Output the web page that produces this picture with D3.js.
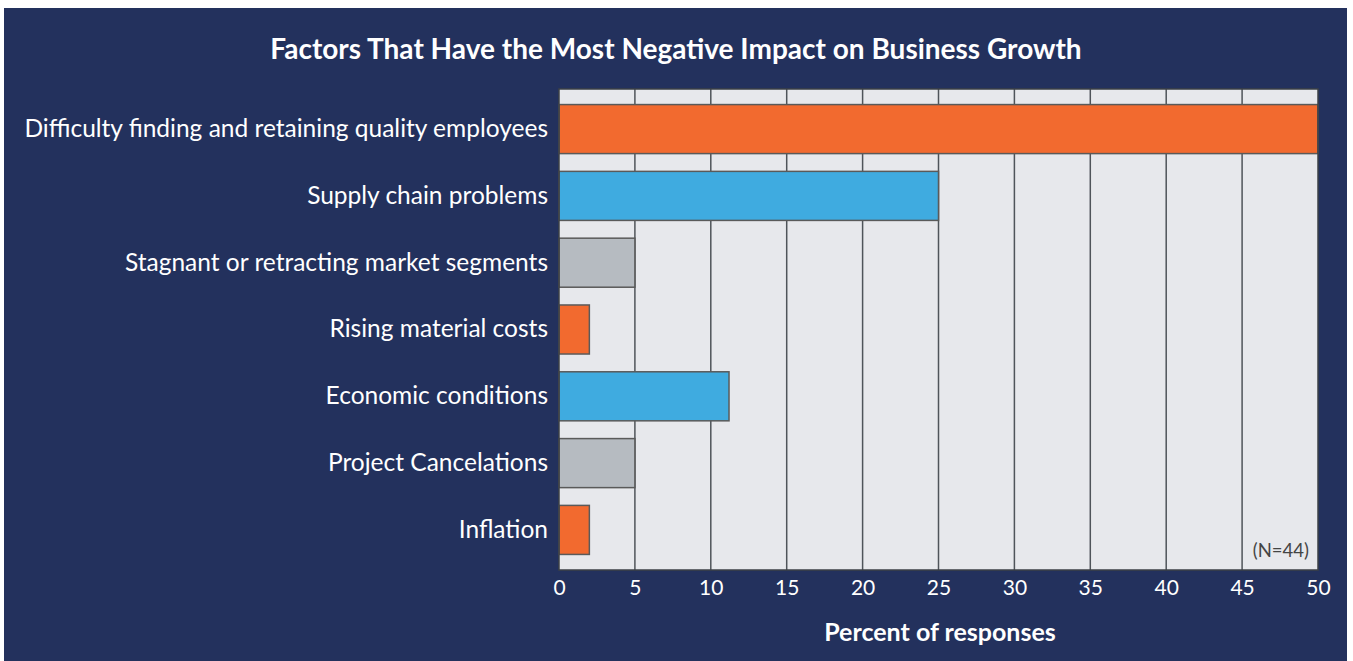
<!DOCTYPE html>
<html>
<head>
<meta charset="utf-8">
<script src="https://cdn.jsdelivr.net/npm/d3@7"></script>
<style>
  body { margin: 0; background: #fff; }
  text { font-family: Lato, "Open Sans", sans-serif; }
</style>
</head>
<body>
<div id="chart"></div>
<script>
const categories = ['Difficulty finding and retaining quality employees', 'Supply chain problems',
  'Stagnant or retracting market segments', 'Rising material costs', 'Economic conditions',
  'Project Cancelations', 'Inflation'];
const values = [50, 25, 5, 2, 11.2, 5, 2];
const barColors = ['#f26a2f', '#3fabe0', '#b6bbc1', '#f26a2f', '#3fabe0', '#b6bbc1', '#f26a2f'];
const xTicks = [0, 5, 10, 15, 20, 25, 30, 35, 40, 45, 50];

const w = 1353, h = 661;
const pLeft = 559, pRight = 1318, pTop = 89, pBottom = 570;

let svg = d3.select('#chart').append('svg')
  .attr('width', w).attr('height', h);

// navy panel
svg.append('rect')
  .attr('x', 4).attr('y', 8)
  .attr('width', 1343).attr('height', 653)
  .attr('fill', '#23315d');

svg.append('text')
  .attr('x', 676).attr('y', 59)
  .attr('text-anchor', 'middle')
  .attr('fill', '#fff')
  .style('font-size', '28px')
  .style('font-weight', 'bold')
  .text('Factors That Have the Most Negative Impact on Business Growth');

let xScale = d3.scaleLinear().domain([0, 50]).range([pLeft, pRight]);
let yScale = d3.scaleBand().domain(categories).range([pTop, pBottom])
  .paddingInner(0.266).paddingOuter(0.233).align(0.5);

// plot background
svg.append('rect')
  .attr('x', pLeft).attr('y', pTop)
  .attr('width', pRight - pLeft).attr('height', pBottom - pTop)
  .attr('fill', '#e7e8ec');

// grid
svg.append('g').selectAll('line')
  .data(xTicks.slice(1, -1))
  .enter().append('line')
  .attr('x1', (d) => xScale(d)).attr('x2', (d) => xScale(d))
  .attr('y1', pTop).attr('y2', pBottom)
  .attr('stroke', '#4f545a')
  .attr('stroke-width', 1.5);

svg.selectAll('.bar')
  .data(categories)
  .enter().append('rect')
  .attr('class', 'bar')
  .attr('x', xScale(0))
  .attr('y', (d) => yScale(d))
  .attr('width', (d, i) => xScale(values[i]) - xScale(0))
  .attr('height', yScale.bandwidth())
  .attr('fill', (d, i) => barColors[i])
  .attr('stroke', '#5a5a5a')
  .attr('stroke-width', 1.5);

// plot border
svg.append('rect')
  .attr('x', pLeft).attr('y', pTop)
  .attr('width', pRight - pLeft).attr('height', pBottom - pTop)
  .attr('fill', 'none')
  .attr('stroke', '#3c4046')
  .attr('stroke-width', 1.5);

// category labels
let yAxis = svg.append('g')
  .attr('transform', 'translate(' + pLeft + ', 0)')
  .call(d3.axisLeft(yScale).tickSize(0).tickPadding(11));
yAxis.select('.domain').remove();
yAxis.selectAll('text')
  .attr('fill', '#fff')
  .style('font-size', '24.5px')
  .style('font-family', 'Lato, sans-serif');

// x axis
let xAxis = svg.append('g')
  .attr('transform', 'translate(0, ' + pBottom + ')')
  .call(d3.axisBottom(xScale).tickValues(xTicks).tickSize(0).tickPadding(10));
xAxis.select('.domain').remove();
xAxis.selectAll('text')
  .attr('fill', '#fff')
  .style('font-size', '21px')
  .style('font-family', 'Lato, sans-serif');

svg.append('text')
  .attr('x', 940).attr('y', 641)
  .attr('text-anchor', 'middle')
  .attr('fill', '#fff')
  .style('font-size', '25px')
  .style('font-weight', 'bold')
  .text('Percent of responses');

svg.append('text')
  .attr('x', 1309).attr('y', 557)
  .attr('text-anchor', 'end')
  .attr('fill', '#444')
  .style('font-size', '18.5px')
  .text('(N=44)');
</script>
</body>
</html>
